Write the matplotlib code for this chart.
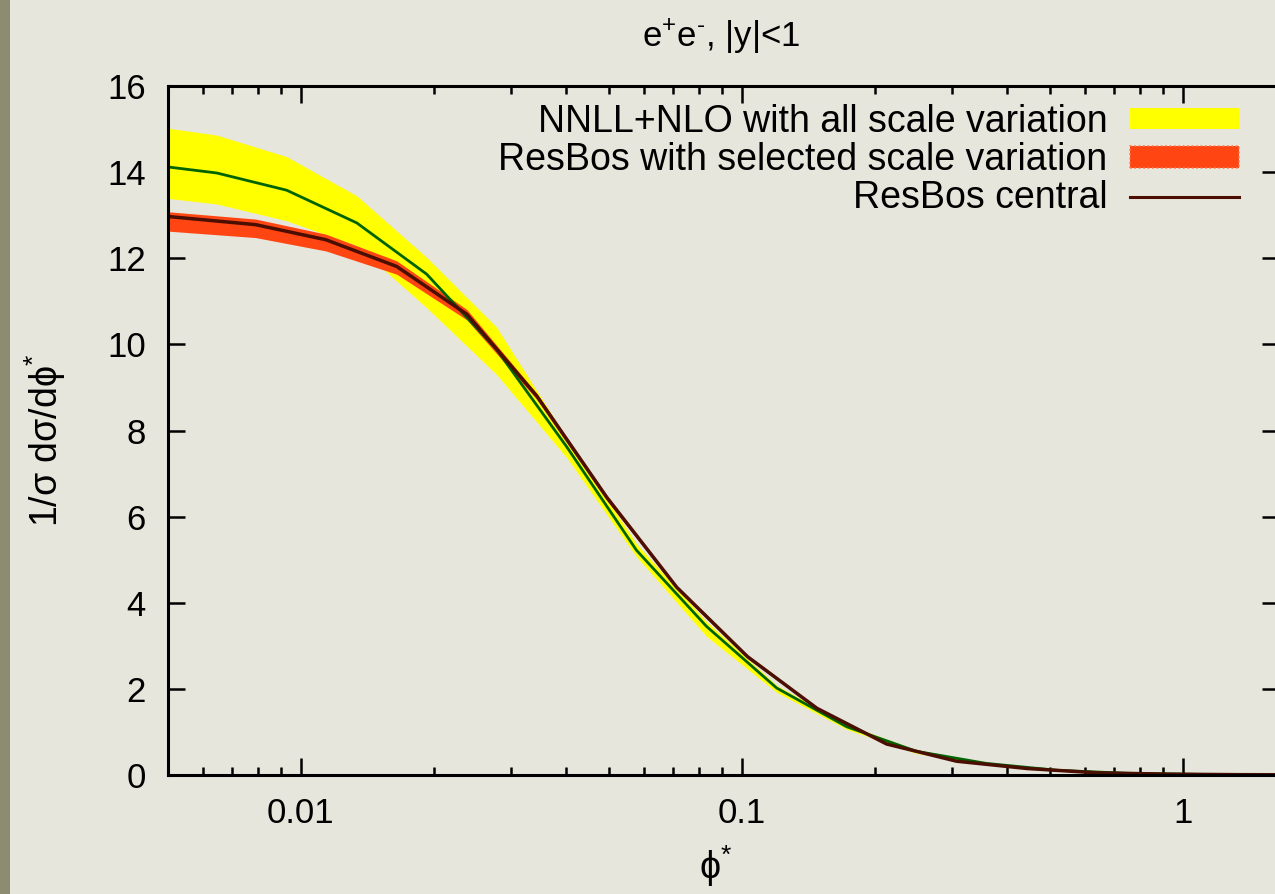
import matplotlib
matplotlib.use("Agg")
import matplotlib.pyplot as plt
from matplotlib.patches import Patch, Rectangle
from matplotlib.lines import Line2D

plt.rcParams['font.family'] = ['Liberation Sans', 'DejaVu Sans']
plt.rcParams['mathtext.fontset'] = 'custom'
plt.rcParams['mathtext.rm'] = 'Liberation Sans'
plt.rcParams['mathtext.it'] = 'Liberation Sans:italic'
plt.rcParams['font.size'] = 25

# NNLL+NLO prediction: central value and scale-variation envelope
phi_nnll = [0.005, 0.00645, 0.00929, 0.0134, 0.0193, 0.0278, 0.0401, 0.0577,
            0.0832, 0.120, 0.173, 0.249, 0.358, 0.518, 0.745, 1.07, 1.55]
nnll_mid = [14.12, 13.98, 13.58, 12.82, 11.63, 9.88, 7.62, 5.22,
            3.45, 2.02, 1.12, 0.55, 0.27, 0.11, 0.04, 0.015, 0.005]
nnll_hi = [15.02, 14.86, 14.36, 13.45, 12.02, 10.40, 7.82, 5.37,
           3.56, 2.08, 1.17, 0.58, 0.29, 0.12, 0.045, 0.017, 0.006]
nnll_lo = [13.39, 13.26, 12.87, 12.29, 10.85, 9.30, 7.37, 5.07,
           3.22, 1.92, 1.06, 0.50, 0.25, 0.10, 0.035, 0.013, 0.004]

# ResBos: central value and selected scale variation
phi_rb = [0.005, 0.0079, 0.0114, 0.0165, 0.0238, 0.0343, 0.0494, 0.0712,
          0.103, 0.148, 0.213, 0.307, 0.444, 0.64, 0.92, 1.33, 1.9]
rb_mid = [12.97, 12.78, 12.43, 11.81, 10.70, 8.80, 6.45, 4.36,
          2.75, 1.55, 0.72, 0.32, 0.15, 0.05, 0.02, 0.008, 0.003]
rb_hi = [13.08, 12.91, 12.56, 11.94, 10.81, 8.86, 6.50, 4.40,
         2.78, 1.57, 0.73, 0.33, 0.15, 0.05, 0.02, 0.008, 0.003]
rb_lo = [12.63, 12.48, 12.17, 11.63, 10.57, 8.72, 6.38, 4.31,
         2.71, 1.52, 0.70, 0.31, 0.14, 0.05, 0.02, 0.008, 0.003]

bg = '#e7e6dc'
fig = plt.figure(figsize=(12.75, 8.94), dpi=100, facecolor=bg)
fig.patches.append(Rectangle((0, 0), 10 / 1275, 1, transform=fig.transFigure,
                             facecolor='#8d8c70', edgecolor='none', zorder=0))

ax = fig.add_axes([168 / 1275, 1 - 775 / 894, 1110.7 / 1275, 689 / 894])
ax.set_facecolor('none')
ax.set_axisbelow(True)  # bands cover the tick marks

ax.fill_between(phi_nnll, nnll_lo, nnll_hi, color='#ffff00', lw=0, zorder=1)
ax.fill_between(phi_rb, rb_lo, rb_hi, color='#ff4512', lw=0, zorder=2)
ax.plot(phi_nnll, nnll_mid, color='#006400', lw=2.0, zorder=3)
ax.plot(phi_rb, rb_mid, color='#4a0e02', lw=2.5, zorder=4)

ax.set_xscale('log')
ax.set_xlim(0.005, 1.65)
ax.set_ylim(0, 16)
ax.set_yticks(range(0, 17, 2))
ax.set_xticks([0.01, 0.1, 1])
ax.set_xticklabels(['0.01', '0.1', '1'])

for s in ax.spines.values():
    s.set_linewidth(2.2)
    s.set_zorder(5)
ax.tick_params(which='both', direction='in', top=True, right=True, width=1.8,
               labelsize=25)
ax.tick_params(which='major', length=12)
ax.tick_params(which='minor', length=6)
ax.tick_params(axis='y', which='major', pad=16)
ax.tick_params(axis='x', which='major', pad=16)

handles = [
    Patch(facecolor='#ffff00', edgecolor='none'),
    Patch(facecolor='#ff4512', edgecolor='#ff7a50', linestyle=':', lw=1.2),
    Line2D([], [], color='#4a0e02', lw=2.2),
]
labels = ['NNLL+NLO with all scale variation',
          'ResBos with selected scale variation',
          'ResBos central']
ax.legend(handles, labels, loc='upper right', markerfirst=False, frameon=False,
          bbox_to_anchor=(1 - 40 / 1110.7, 1 - 18 / 689), borderaxespad=0,
          borderpad=0, handlelength=2.9, handleheight=0.5, handletextpad=0.6,
          labelspacing=0.06, fontsize=27)

fig.text(721 / 1275, 1 - 37 / 894, 'e$^{+}$e$^{\u2010}$, |y|<1', ha='center',
         va='center', fontsize=25)
fig.text(45 / 1275, 1 - 440 / 894, r'1/σ dσ/dϕ$^{*}$', rotation=90,
         ha='center', va='center', fontsize=27)
fig.text(716 / 1275, 1 - 866 / 894, r'ϕ$^{*}$', ha='center', va='center',
         fontsize=27)

fig.savefig('out.png', dpi=100, facecolor=bg)
